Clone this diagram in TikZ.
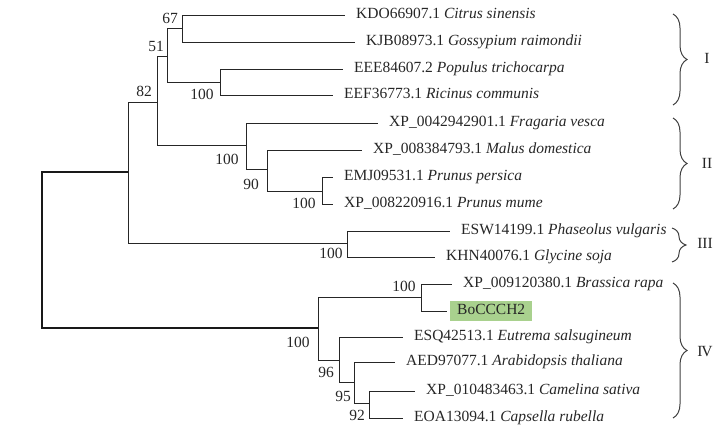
\documentclass[tikz,border=0pt]{standalone}
\usepackage{fontspec}
\setmainfont{Liberation Serif}
\usetikzlibrary{decorations.pathreplacing}
\begin{document}
\begin{tikzpicture}[x=1pt,y=-1pt,
  br/.style={draw=black!85, line width=1pt},
  rootbr/.style={draw=black!90, line width=1.6pt},
  txt/.style={inner sep=0pt, text height=0.662em, text depth=0pt, font=\fontsize{15.5}{18}\selectfont, text=black!85},
  leaf/.style={txt, anchor=west, xshift=11pt},
  bs/.style={txt},
  grp/.style={decorate, decoration={brace, amplitude=14pt}, draw=black!75, line width=1pt},
  hl/.style={txt, anchor=west, fill=green!45!lime!30!olive!0, minimum width=82pt, minimum height=20pt}
]
\useasboundingbox (0,0) rectangle (727,434);
\definecolor{hlgreen}{RGB}{169,209,142}
% internal nodes
\coordinate (root) at (42,250);
\coordinate (n82) at (128,172);
\coordinate (nA) at (157,102);
\coordinate (n51) at (167,56);
\coordinate (n67) at (182,28);
\coordinate (nPop) at (220,82);
\coordinate (nRos) at (246,145);
\coordinate (n90) at (267,169);
\coordinate (nPru) at (322,191);
\coordinate (nLeg) at (347,243);
\coordinate (nBr) at (318,328);
\coordinate (nRap) at (421,297);
\coordinate (n96) at (339,360);
\coordinate (n95) at (354,382);
\coordinate (n92) at (369,403);
% leaves
\coordinate (lCit) at (345,15);
\coordinate (lGos) at (355,42);
\coordinate (lPop) at (343,69);
\coordinate (lRic) at (333,95);
\coordinate (lFra) at (378,123);
\coordinate (lMal) at (362,150);
\coordinate (lPer) at (333,177);
\coordinate (lMum) at (333,204);
\coordinate (lPha) at (450,231);
\coordinate (lGly) at (435,257);
\coordinate (lRap) at (452,284);
\coordinate (lBo) at (447,311);
\coordinate (lEut) at (403,337);
\coordinate (lAra) at (395,362);
\coordinate (lCam) at (415,391);
\coordinate (lCap) at (403,418);
% leaf labels
\node[leaf] (tCit) at (lCit) {KDO66907.1 \textit{Citrus sinensis}};
\node[leaf] (tGos) at (lGos) {KJB08973.1 \textit{Gossypium raimondii}};
\node[leaf] (tPop) at (lPop) {EEE84607.2 \textit{Populus trichocarpa}};
\node[leaf] (tRic) at (lRic) {EEF36773.1 \textit{Ricinus communis}};
\node[leaf] (tFra) at (lFra) {XP\_0042942901.1 \textit{Fragaria vesca}};
\node[leaf] (tMal) at (lMal) {XP\_008384793.1 \textit{Malus domestica}};
\node[leaf] (tPer) at (lPer) {EMJ09531.1 \textit{Prunus persica}};
\node[leaf] (tMum) at (lMum) {XP\_008220916.1 \textit{Prunus mume}};
\node[leaf] (tPha) at (lPha) {ESW14199.1 \textit{Phaseolus vulgaris}};
\node[leaf] (tGly) at (lGly) {KHN40076.1 \textit{Glycine soja}};
\node[leaf] (tRap) at (lRap) {XP\_009120380.1 \textit{Brassica rapa}};
\node[txt, anchor=west, fill=hlgreen, minimum width=82pt, minimum height=20pt, xshift=3pt] (tBo) at (lBo) {BoCCCH2};
\node[leaf] (tEut) at (lEut) {ESQ42513.1 \textit{Eutrema salsugineum}};
\node[leaf] (tAra) at (lAra) {AED97077.1 \textit{Arabidopsis thaliana}};
\node[leaf] (tCam) at (lCam) {XP\_010483463.1 \textit{Camelina sativa}};
\node[leaf] (tCap) at (lCap) {EOA13094.1 \textit{Capsella rubella}};
% branches
\draw[rootbr] (root) |- (n82);
\draw[rootbr] (root) |- (nBr);
\draw[br] (n82) |- (nA);
\draw[br] (n82) |- (nLeg);
\draw[br] (nA) |- (n51);
\draw[br] (nA) |- (nRos);
\draw[br] (n51) |- (n67);
\draw[br] (n51) |- (nPop);
\draw[br] (n67) |- (lCit);
\draw[br] (n67) |- (lGos);
\draw[br] (nPop) |- (lPop);
\draw[br] (nPop) |- (lRic);
\draw[br] (nRos) |- (lFra);
\draw[br] (nRos) |- (n90);
\draw[br] (n90) |- (lMal);
\draw[br] (n90) |- (nPru);
\draw[br] (nPru) |- (lPer);
\draw[br] (nPru) |- (lMum);
\draw[br] (nLeg) |- (lPha);
\draw[br] (nLeg) |- (lGly);
\draw[br] (nBr) |- (nRap);
\draw[br] (nBr) |- (n96);
\draw[br] (nRap) |- (lRap);
\draw[br] (nRap) |- (lBo);
\draw[br] (n96) |- (lEut);
\draw[br] (n96) |- (n95);
\draw[br] (n95) |- (lAra);
\draw[br] (n95) |- (n92);
\draw[br] (n92) |- (lCam);
\draw[br] (n92) |- (lCap);
% bootstrap values
\node[bs] (b67) at (170,20) {67};
\node[bs] (b51) at (156,48) {51};
\node[bs] (b82) at (144,93) {82};
\node[bs] (bPop) at (202,96) {100};
\node[bs] (bRos) at (227,161) {100};
\node[bs] (b90) at (251,186) {90};
\node[bs] (bPru) at (304,205) {100};
\node[bs] (bLeg) at (331,255) {100};
\node[bs] (bBr) at (298,344) {100};
\node[bs] (bRap) at (404,288) {100};
\node[bs] (b96) at (326,374) {96};
\node[bs] (b95) at (343,398) {95};
\node[bs] (b92) at (357,417) {92};
% group braces
\coordinate (g1a) at (673,14);  \coordinate (g1b) at (673,105);
\coordinate (g2a) at (673,118); \coordinate (g2b) at (673,209);
\coordinate (g3a) at (672,228); \coordinate (g3b) at (672,262);
\coordinate (g4a) at (673,283); \coordinate (g4b) at (673,418);
\draw[grp] (g1a) -- (g1b);
\draw[grp] (g2a) -- (g2b);
\draw[grp] (g3a) -- (g3b);
\draw[grp] (g4a) -- (g4b);
\node[bs] (r1) at (707,60) {I};
\node[bs] (r2) at (707,165) {II};
\node[bs] (r3) at (705,245) {III};
\node[bs] (r4) at (705,353) {I\kern-1.2pt V};
\end{tikzpicture}
\end{document}
